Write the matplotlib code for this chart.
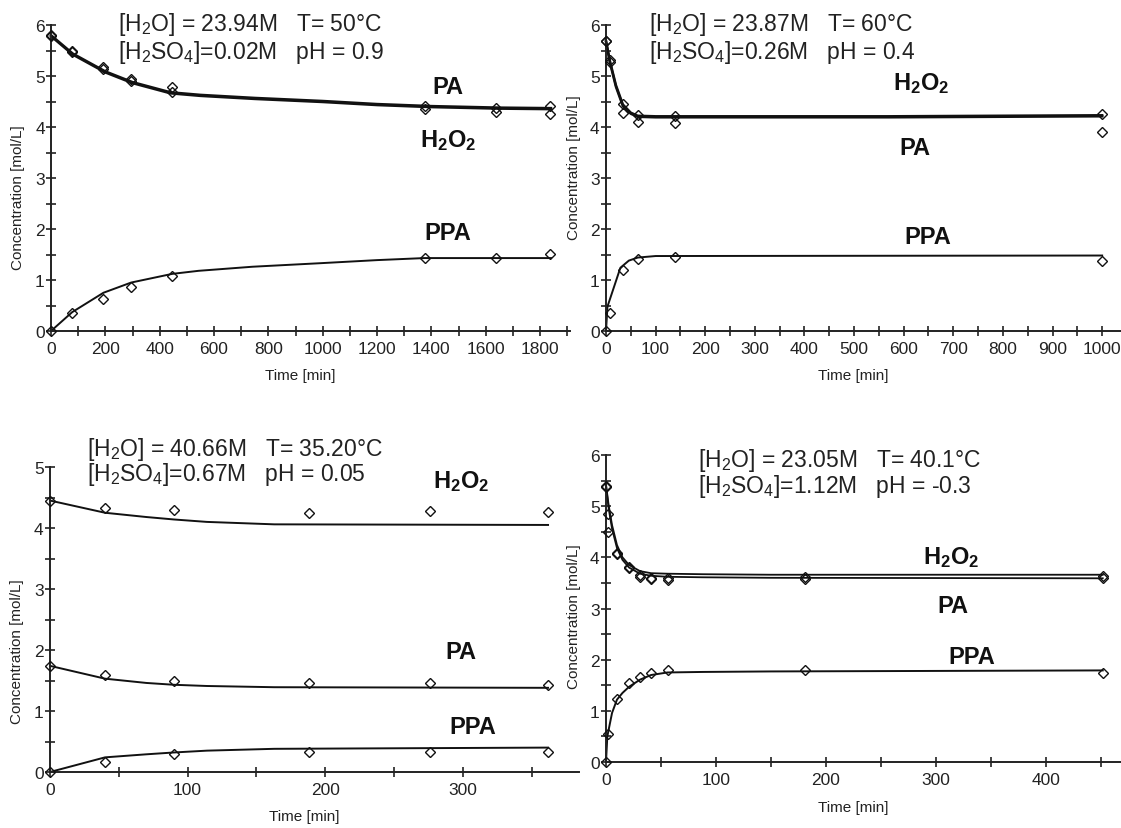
import matplotlib
matplotlib.use('Agg')
import matplotlib.pyplot as plt
from matplotlib.ticker import MultipleLocator
from matplotlib import font_manager

plt.rcParams['font.family'] = ['Liberation Sans', 'DejaVu Sans']
plt.rcParams['mathtext.default'] = 'regular'

# narrow face for the small axis text, if the system has one
names = {f.name for f in font_manager.fontManager.ttflist}
narrow = 'Liberation Sans Narrow' if 'Liberation Sans Narrow' in names else 'Liberation Sans'

# ---- panel 1 : 50 C ----
t1 = [0, 78, 193, 295, 446, 1376, 1636, 1835]
pa1 = [5.80, 5.50, 5.18, 4.95, 4.78, 4.41, 4.38, 4.41]
h2o2_1 = [5.78, 5.48, 5.14, 4.90, 4.69, 4.36, 4.30, 4.25]
ppa1 = [0.0, 0.35, 0.63, 0.87, 1.07, 1.44, 1.44, 1.51]
tf1 = [0, 80, 200, 300, 440, 550, 750, 1000, 1200, 1400, 1650, 1840]
pa1_fit = [5.80, 5.44, 5.09, 4.88, 4.68, 4.63, 4.57, 4.51, 4.45, 4.41, 4.38, 4.37]
h2o2_1_fit = [5.78, 5.42, 5.07, 4.86, 4.66, 4.61, 4.55, 4.49, 4.43, 4.39, 4.36, 4.35]
tf1_ppa = [0, 78, 193, 295, 446, 543, 741, 993, 1200, 1374, 1840]
ppa1_fit = [0.0, 0.37, 0.75, 0.95, 1.12, 1.18, 1.26, 1.33, 1.39, 1.43, 1.43]

# ---- panel 2 : 60 C ----
t2 = [0, 8, 34, 64, 140, 1000]
h2o2_2 = [5.69, 5.32, 4.46, 4.23, 4.22, 4.25]
pa2 = [5.69, 5.27, 4.27, 4.10, 4.08, 3.90]
ppa2 = [0.0, 0.36, 1.20, 1.42, 1.46, 1.38]
tf2 = [0, 8, 20, 34, 50, 64, 100, 570, 1000]
h2o2_2_fit = [5.69, 5.29, 4.82, 4.44, 4.28, 4.22, 4.21, 4.21, 4.23]
pa2_fit = [5.67, 5.26, 4.79, 4.41, 4.26, 4.20, 4.19, 4.19, 4.21]
tf2_ppa = [0, 3, 29, 46, 64, 100, 1000]
ppa2_fit = [0.0, 0.48, 1.24, 1.38, 1.44, 1.47, 1.48]

# ---- panel 3 : 35.20 C ----
t3 = [0, 40, 90, 188, 276, 362]
h2o2_3 = [4.45, 4.33, 4.29, 4.24, 4.28, 4.26]
pa3 = [1.74, 1.59, 1.50, 1.46, 1.46, 1.43]
ppa3 = [0.0, 0.16, 0.29, 0.32, 0.33, 0.33]
tf3 = [0, 40, 70, 90, 114, 163, 362]
h2o2_3_fit = [4.45, 4.25, 4.18, 4.14, 4.10, 4.06, 4.05]
pa3_fit = [1.74, 1.53, 1.46, 1.43, 1.41, 1.39, 1.38]
ppa3_fit = [0.0, 0.24, 0.29, 0.32, 0.35, 0.38, 0.40]

# ---- panel 4 : 40.1 C ----
t4 = [0, 2, 10, 21, 31, 41, 56, 181, 452]
h2o2_4 = [5.40, 4.84, 4.09, 3.81, 3.65, 3.60, 3.59, 3.62, 3.64]
pa4 = [5.38, 4.49, 4.06, 3.80, 3.62, 3.57, 3.56, 3.58, 3.60]
ppa4 = [0.0, 0.55, 1.23, 1.55, 1.66, 1.73, 1.79, 1.79, 1.74]
tf4 = [0, 2.4, 5.5, 10, 15, 21, 31, 41, 56, 88, 150, 452]
h2o2_4_fit = [5.42, 5.02, 4.63, 4.24, 4.00, 3.85, 3.73, 3.69, 3.68, 3.67, 3.66, 3.66]
pa4_fit = [5.40, 4.96, 4.56, 4.18, 3.95, 3.80, 3.68, 3.64, 3.62, 3.61, 3.60, 3.59]
tf4_ppa = [0, 1.2, 5.5, 10, 15, 21, 31, 41, 56, 88, 150, 452]
ppa4_fit = [0.0, 0.50, 0.96, 1.22, 1.35, 1.47, 1.61, 1.70, 1.75, 1.76, 1.77, 1.79]

conditions = [
    ('[H$_2$O] = 23.94M   T= 50°C', '[H$_2$SO$_4$]=0.02M   pH = 0.9'),
    ('[H$_2$O] = 23.87M   T= 60°C', '[H$_2$SO$_4$]=0.26M   pH = 0.4'),
    ('[H$_2$O] = 40.66M   T= 35.20°C', '[H$_2$SO$_4$]=0.67M   pH = 0.05'),
    ('[H$_2$O] = 23.05M   T= 40.1°C', '[H$_2$SO$_4$]=1.12M   pH = -0.3'),
]

W, H = 1121, 829
fig = plt.figure(figsize=(W / 100, H / 100), dpi=100)


def make_axes(left, right, bottom, top):
    # pixel box -> figure fraction
    return fig.add_axes([left / W, (H - bottom) / H, (right - left) / W, (bottom - top) / H])


def style(ax, xmax, ymax, xmaj, xmin, ylab_y):
    ax.set_xlim(0, xmax)
    ax.set_ylim(0, ymax)
    for s in ['top', 'right']:
        ax.spines[s].set_visible(False)
    for s in ['left', 'bottom']:
        ax.spines[s].set_linewidth(1.4)
        ax.spines[s].set_color('#222222')
    ax.xaxis.set_major_locator(MultipleLocator(xmaj))
    ax.xaxis.set_minor_locator(MultipleLocator(xmin))
    ax.yaxis.set_major_locator(MultipleLocator(1))
    ax.yaxis.set_minor_locator(MultipleLocator(0.5))
    ax.tick_params(which='both', direction='inout', length=7, width=1.2, color='#222222')
    ax.tick_params(axis='x', labelsize=12.5, pad=4, labelcolor='#222222')
    ax.tick_params(axis='y', labelsize=12.5, pad=1, labelcolor='#222222')
    for lab in ax.get_xticklabels() + ax.get_yticklabels():
        lab.set_family(narrow)
    ax.patch.set_visible(False)
    ax.text(0.48, -0.145, 'Time [min]', transform=ax.transAxes, ha='center', va='center',
            fontsize=11, family=narrow, color='#222222')
    ax.text(-0.063, ylab_y, 'Concentration [mol/L]', transform=ax.transAxes, rotation=90,
            ha='center', va='center', fontsize=11, family=narrow, color='#222222')


def pts(ax, t, y):
    ax.plot(t, y, linestyle='none', marker='D', ms=5.5, mfc='none', mec='#111111', mew=1,
            clip_on=False, zorder=3)


def fit(ax, t, y, lw=1.4):
    ax.plot(t, y, color='#111111', lw=lw, clip_on=False, zorder=2)


def cond(ax, x, y1, y2, lines):
    ax.text(x, y1, lines[0], fontsize=16.5, color='#222222', va='center', ha='left')
    ax.text(x, y2, lines[1], fontsize=16.5, color='#222222', va='center', ha='left')


def species(ax, x, y, name):
    ax.text(x, y, name, fontsize=17, fontweight='bold', ha='center', va='center', color='#111111')


# panel 1
ax1 = make_axes(51, 570, 332, 26)
style(ax1, 1910, 6, 200, 100, 0.44)
fit(ax1, tf1, pa1_fit, 1.8)
fit(ax1, tf1, h2o2_1_fit, 1.8)
fit(ax1, tf1_ppa, ppa1_fit)
pts(ax1, t1, pa1)
pts(ax1, t1, h2o2_1)
pts(ax1, t1, ppa1)
cond(ax1, 246, 6.02, 5.49, conditions[0])
species(ax1, 1460, 4.8, 'PA')
species(ax1, 1460, 3.76, 'H$_2$O$_2$')
species(ax1, 1460, 1.94, 'PPA')

# panel 2
ax2 = make_axes(606, 1121, 332, 26)
style(ax2, 1038, 6, 100, 50, 0.536)
fit(ax2, tf2, h2o2_2_fit, 1.8)
fit(ax2, tf2, pa2_fit, 1.8)
fit(ax2, tf2_ppa, ppa2_fit)
pts(ax2, t2, h2o2_2)
pts(ax2, t2, pa2)
pts(ax2, t2, ppa2)
cond(ax2, 87, 6.02, 5.49, conditions[1])
species(ax2, 635, 4.88, 'H$_2$O$_2$')
species(ax2, 623, 3.6, 'PA')
species(ax2, 649, 1.86, 'PPA')

# panel 3
ax3 = make_axes(50, 579, 773, 468)
style(ax3, 384.5, 5, 100, 50, 0.397)
fit(ax3, tf3, h2o2_3_fit)
fit(ax3, tf3, pa3_fit)
fit(ax3, tf3, ppa3_fit)
pts(ax3, t3, h2o2_3)
pts(ax3, t3, pa3)
pts(ax3, t3, ppa3)
cond(ax3, 27, 5.3, 4.89, conditions[2])
species(ax3, 299, 4.77, 'H$_2$O$_2$')
species(ax3, 299, 1.98, 'PA')
species(ax3, 307, 0.74, 'PPA')

# panel 4
ax4 = make_axes(606, 1121, 763, 456)
style(ax4, 468.6, 6, 100, 50, 0.478)
fit(ax4, tf4, h2o2_4_fit, 1.3)
fit(ax4, tf4, pa4_fit, 1.3)
fit(ax4, tf4_ppa, ppa4_fit)
pts(ax4, t4, h2o2_4)
pts(ax4, t4, pa4)
pts(ax4, t4, ppa4)
cond(ax4, 84, 5.92, 5.40, conditions[3])
species(ax4, 314, 4.02, 'H$_2$O$_2$')
species(ax4, 316, 3.05, 'PA')
species(ax4, 333, 2.07, 'PPA')

fig.savefig('out.png', dpi=100)
